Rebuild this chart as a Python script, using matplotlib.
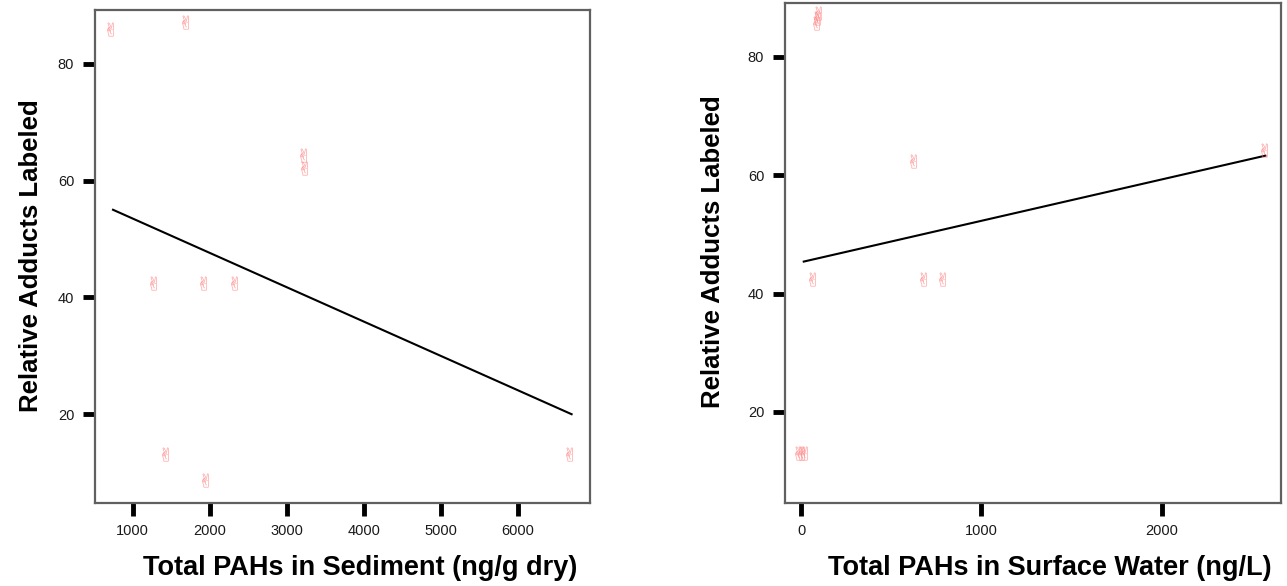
import matplotlib
matplotlib.use("Agg")
import matplotlib.pyplot as plt
import numpy as np

# Sediment panel data
sed_x = [705, 1679, 3212, 3230, 1264, 1918, 2321, 1420, 1944, 6666]
sed_y = [86.0, 87.2, 64.3, 62.2, 42.4, 42.4, 42.4, 13.2, 8.7, 13.2]
sed_fit_x = [744, 6701]
sed_fit_y = [55.0, 20.0]
sed_xticks = [1000, 2000, 3000, 4000, 5000, 6000]

# Surface water panel data
wat_x = [85, 90, 95, 620, 63, 675, 780, -15, 0, 15, 2569]
wat_y = [85.7, 86.6, 87.4, 62.4, 42.5, 42.5, 42.5, 13.1, 13.1, 13.1, 64.3]
wat_fit_x = [15, 2575]
wat_fit_y = [45.4, 63.3]
wat_xticks = [0, 1000, 2000]

yticks = [20, 40, 60, 80]
ylabel = "Relative Adducts Labeled"
sed_xlabel = "Total PAHs in Sediment (ng/g dry)"
wat_xlabel = "Total PAHs in Surface Water (ng/L)"

plt.rcParams['font.family'] = ['Liberation Sans', 'DejaVu Sans']

fig = plt.figure(figsize=(12.87, 5.86), dpi=100)
ax1 = fig.add_axes([95/1287, 1-503/586, (590-95)/1287, (503-10)/586])
ax2 = fig.add_axes([785/1287, 1-503/586, (1281-785)/1287, (503-3)/586])

marker = '$\u270C$'
pink = '#ff8c8c'

def style(ax, xlim, ylim, xticks, xlabel, xl_pos, yl_pos):
    ax.set_xlim(*xlim)
    ax.set_ylim(*ylim)
    ax.set_xticks(xticks)
    ax.set_yticks(yticks)
    for s in ax.spines.values():
        s.set_color('#606060')
        s.set_linewidth(1.6)
    ax.tick_params(direction='out', length=9, width=3.5, color='black',
                   labelsize=10.5, labelcolor='#1a1a1a', pad=6)
    ax.set_xlabel(xlabel, fontsize=19.5, fontweight='bold', va='center')
    ax.set_ylabel(ylabel, fontsize=18.5, fontweight='bold', va='center')
    ax.xaxis.set_label_coords(*xl_pos)
    ax.yaxis.set_label_coords(*yl_pos)

ax1.scatter(sed_x, sed_y, marker=marker, s=100, color=pink, linewidths=0, zorder=3)
ax1.plot(sed_fit_x, sed_fit_y, color='black', lw=1.5)
style(ax1, (510, 6940), (4.8, 89.2), sed_xticks, sed_xlabel,
      (0.535, -0.132), (-0.13, 0.501))

ax2.scatter(wat_x, wat_y, marker=marker, s=100, color=pink, linewidths=0, zorder=3)
ax2.plot(wat_fit_x, wat_fit_y, color='black', lw=1.5)
style(ax2, (-89, 2662), (4.6, 89.1), wat_xticks, wat_xlabel,
      (0.534, -0.13), (-0.145, 0.502))

fig.savefig("out.png", dpi=100)
